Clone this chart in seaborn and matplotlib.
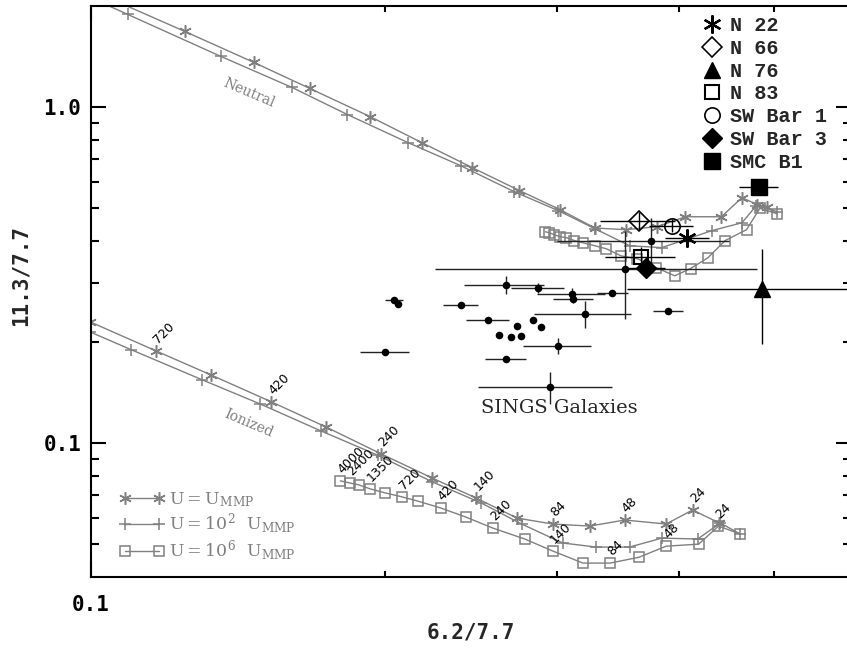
import numpy as np
import pandas as pd
import matplotlib
matplotlib.use("Agg")
import matplotlib.pyplot as plt
import seaborn as sns
from matplotlib.lines import Line2D
from matplotlib.ticker import FixedLocator, FixedFormatter, NullFormatter

# ---------------- data ----------------
# Neutral model curves
neu_u1_x = [0.104, 0.1247, 0.1468, 0.1675, 0.193, 0.218, 0.2456, 0.2745, 0.302, 0.328,
            0.353, 0.380, 0.406, 0.442, 0.464, 0.481, 0.492]
neu_u1_y = [2.12, 1.681, 1.359, 1.137, 0.938, 0.785, 0.661, 0.565, 0.496, 0.437,
            0.432, 0.441, 0.472, 0.472, 0.538, 0.513, 0.503]
neu_u2_x = [0.0926, 0.109, 0.1358, 0.1606, 0.183, 0.211, 0.239, 0.271, 0.301, 0.328,
            0.356, 0.384, 0.432, 0.464, 0.480, 0.504]
neu_u2_y = [2.34, 1.889, 1.416, 1.145, 0.951, 0.785, 0.670, 0.561, 0.492, 0.435,
            0.387, 0.382, 0.429, 0.453, 0.5095, 0.489]
neu_u6_x = [0.2918, 0.2946, 0.2981, 0.302, 0.3067, 0.3125, 0.319, 0.328, 0.337, 0.349,
            0.3627, 0.379, 0.396, 0.411, 0.428, 0.446, 0.469, 0.484, 0.504]
neu_u6_y = [0.426, 0.423, 0.4175, 0.4118, 0.409, 0.401, 0.395, 0.387, 0.379, 0.361,
            0.354, 0.333, 0.315, 0.331, 0.356, 0.401, 0.432, 0.500, 0.482]

# Ionized model curves
ion_u1_x = [0.0997, 0.1165, 0.1326, 0.153, 0.174, 0.198, 0.2235, 0.248, 0.273, 0.297,
            0.324, 0.352, 0.388, 0.413, 0.440]
ion_u1_y = [0.230, 0.1884, 0.1598, 0.1328, 0.1118, 0.0931, 0.0788, 0.0687, 0.0599, 0.0575,
            0.0567, 0.0591, 0.0575, 0.0633, 0.0579]
ion_u1_nc = ["", "720", "", "420", "", "240", "", "140", "", "84", "", "48", "", "24", ""]
ion_u2_x = [0.0997, 0.110, 0.130, 0.149, 0.172, 0.1965, 0.2235, 0.251, 0.276, 0.304,
            0.329, 0.356, 0.384, 0.418, 0.441, 0.462]
ion_u2_y = [0.2146, 0.1897, 0.1544, 0.1309, 0.1088, 0.0922, 0.0768, 0.0664, 0.0575, 0.0505,
            0.0491, 0.0491, 0.0522, 0.0519, 0.0579, 0.0537]
ion_u6_x = [0.180, 0.184, 0.188, 0.193, 0.200, 0.208, 0.216, 0.228, 0.242, 0.258,
            0.278, 0.297, 0.319, 0.340, 0.364, 0.388, 0.419, 0.439, 0.462]
ion_u6_y = [0.0773, 0.0762, 0.0752, 0.0732, 0.0712, 0.0693, 0.0673, 0.0642, 0.0603, 0.0559,
            0.0519, 0.0478, 0.0440, 0.0440, 0.0458, 0.0494, 0.0501, 0.0567, 0.0537]
ion_u6_nc = ["4000", "2400", "", "1350", "", "720", "", "420", "", "240",
             "", "140", "", "84", "", "48", "", "24", ""]

# SINGS galaxies
sings_x = [0.2043, 0.2062, 0.2393, 0.200, 0.2661, 0.2870, 0.3110, 0.3419, 0.3118, 0.3208,
           0.2551, 0.2837, 0.2891, 0.2732, 0.2618, 0.2694, 0.2758, 0.3009, 0.2661, 0.2953,
           0.3525, 0.3747, 0.3902]
sings_y = [0.2673, 0.2601, 0.2583, 0.1871, 0.2967, 0.2906, 0.2785, 0.2790, 0.2695, 0.2431,
           0.2330, 0.2330, 0.2221, 0.2236, 0.2102, 0.2073, 0.2088, 0.1950, 0.1783, 0.1472,
           0.3310, 0.4006, 0.2478]
sings_xerr = [0.0044, 0.0, 0.010, 0.0114, 0.025, 0.018, 0.025, 0.0125, 0.0144, 0.0365,
              0.013, 0.0, 0.0, 0.0, 0.0, 0.0, 0.0, 0.0238, 0.0128, 0.046,
              0.1277, 0.075, 0.0138]
sings_yerr = [0.0, 0.0, 0.0, 0.0, 0.018, 0.010, 0.011, 0.0, 0.0075, 0.0225,
              0.005, 0.0, 0.0, 0.0, 0.0, 0.0, 0.0, 0.011, 0.0, 0.016,
              0.097, 0.067, 0.004]

# Named regions
obj_names = ["N 22", "N 66", "N 76", "N 83", "SW Bar 1", "SW Bar 3", "SMC B1"]
obj_x = [0.408, 0.364, 0.487, 0.366, 0.393, 0.370, 0.483]
obj_y = [0.409, 0.460, 0.288, 0.359, 0.444, 0.333, 0.580]
obj_xerr = [0.021, 0.032, 0.133, 0.030, 0.020, 0.017, 0.022]
obj_yerr = [0.010, 0.028, 0.091, 0.024, 0.020, 0.008, 0.0]

# ---------------- style ----------------
sns.set_style("ticks")
plt.rcParams["font.family"] = ["DejaVu Sans"]
plt.rcParams["mathtext.fontset"] = "dejavuserif"

GRAY = "#808080"
AST = (6, 2, 0)

fig = plt.figure(figsize=(8.47, 6.48), dpi=100)
ax = fig.add_axes([91 / 847, 71 / 648, 760 / 847, 571 / 648])
ax.set_xscale("log")
ax.set_yscale("log")


def curve(x, y, marker, ms, mfc):
    sns.lineplot(x=x, y=y, sort=False, estimator=None, ax=ax, color=GRAY, lw=1,
                 marker=marker, markersize=ms, markerfacecolor=mfc,
                 markeredgecolor=GRAY, markeredgewidth=1.1, legend=False, zorder=2)


curve(neu_u1_x, neu_u1_y, AST, 9, GRAY)
curve(neu_u2_x, neu_u2_y, "+", 8, GRAY)
curve(neu_u6_x, neu_u6_y, "s", 7, "none")
curve(ion_u1_x, ion_u1_y, AST, 9, GRAY)
curve(ion_u2_x, ion_u2_y, "+", 8, GRAY)
curve(ion_u6_x, ion_u6_y, "s", 7, "none")

# size labels
for xs, ys, labs in [(ion_u1_x, ion_u1_y, ion_u1_nc), (ion_u6_x, ion_u6_y, ion_u6_nc)]:
    for xv, yv, lab in zip(xs, ys, labs):
        if lab:
            ax.annotate(lab, xy=(xv, yv), xytext=(3, 3.5), textcoords="offset points",
                        rotation=45, rotation_mode="anchor", ha="left", va="bottom",
                        fontsize=9, color="black", zorder=5)

ax.text(0.145, 1.106, "Neutral", rotation=-23, color=GRAY, fontsize=10,
        family="DejaVu Serif", ha="center", va="center")
ax.text(0.145, 0.1149, "Ionized", rotation=-23, color=GRAY, fontsize=10,
        family="DejaVu Serif", ha="center", va="center")

# SINGS galaxies
ax.errorbar(sings_x, sings_y, xerr=sings_xerr, yerr=sings_yerr, fmt="none",
            ecolor="#222222", elinewidth=1, capsize=0, zorder=3)
sns.scatterplot(x=sings_x, y=sings_y, color="black", s=30, linewidth=0, ax=ax,
                zorder=4, legend=False)
ax.text(0.302, 0.1274, "SINGS Galaxies", family="DejaVu Serif", fontsize=14,
        ha="center", va="center", zorder=5)

# named regions
obj_style = {
    "N 22": dict(marker=AST, ms=13, mfc="black", mec="black", mew=1.6),
    "N 66": dict(marker="D", ms=10, mfc="none", mec="black", mew=1.2),
    "N 76": dict(marker="^", ms=11, mfc="black", mec="black", mew=1),
    "N 83": dict(marker="s", ms=10, mfc="none", mec="black", mew=1.5),
    "SW Bar 1": dict(marker="o", ms=11, mfc="none", mec="black", mew=1.2),
    "SW Bar 3": dict(marker="D", ms=10, mfc="black", mec="black", mew=1),
    "SMC B1": dict(marker="s", ms=11, mfc="black", mec="black", mew=1),
}
handles = []
for name, xv, yv, xe, ye in zip(obj_names, obj_x, obj_y, obj_xerr, obj_yerr):
    st = obj_style[name]
    ax.errorbar([xv], [yv], xerr=[xe], yerr=[ye], fmt="none", ecolor="black",
                elinewidth=1, capsize=0, zorder=5)
    ax.plot([xv], [yv], linestyle="none", zorder=6, **st)
    handles.append(Line2D([], [], linestyle="none", **st))

leg1 = ax.legend(handles, obj_names, loc="upper left",
                 bbox_to_anchor=(702 / 847, 1 - 16 / 648), bbox_transform=fig.transFigure,
                 frameon=False, borderpad=0, borderaxespad=0, handlelength=1.0,
                 handletextpad=0.4, labelspacing=0.19,
                 prop={"family": "Liberation Mono", "weight": "bold", "size": 14.5})
ax.add_artist(leg1)

mod_handles = [
    Line2D([], [], color=GRAY, lw=1, marker=AST, ms=9, mfc=GRAY, mec=GRAY, mew=1.1),
    Line2D([], [], color=GRAY, lw=1, marker="+", ms=8, mfc=GRAY, mec=GRAY, mew=1.1),
    Line2D([], [], color=GRAY, lw=1, marker="s", ms=7, mfc="none", mec=GRAY, mew=1.1),
]
mod_labels = [r"$\mathrm{U}=\mathrm{U}_{\mathrm{MMP}}$",
              r"$\mathrm{U}=10^{2}\ \ \mathrm{U}_{\mathrm{MMP}}$",
              r"$\mathrm{U}=10^{6}\ \ \mathrm{U}_{\mathrm{MMP}}$"]
ax.legend(mod_handles, mod_labels, loc="upper left",
          bbox_to_anchor=(120 / 847, 1 - 490 / 648), bbox_transform=fig.transFigure,
          frameon=False, borderpad=0, borderaxespad=0, numpoints=2,
          handlelength=2.55, handletextpad=0.25, labelspacing=0.15, labelcolor=GRAY,
          prop={"family": "DejaVu Serif", "size": 12.5})

# axes
ax.set_xlim(0.1, 0.6)
ax.set_ylim(0.04, 2.0)
ax.xaxis.set_major_locator(FixedLocator([0.1]))
ax.xaxis.set_major_formatter(FixedFormatter(["0.1"]))
ax.xaxis.set_minor_locator(FixedLocator([0.2, 0.3, 0.4, 0.5]))
ax.xaxis.set_minor_formatter(NullFormatter())
ax.yaxis.set_major_locator(FixedLocator([0.1, 1.0]))
ax.yaxis.set_major_formatter(FixedFormatter(["0.1", "1.0"]))
ax.yaxis.set_minor_locator(FixedLocator([0.05, 0.06, 0.07, 0.08, 0.09,
                                         0.2, 0.3, 0.4, 0.5, 0.6, 0.7, 0.8, 0.9]))
ax.yaxis.set_minor_formatter(NullFormatter())

ax.tick_params(which="both", direction="in", top=True, right=True, width=1.5,
               colors="black")
ax.tick_params(axis="y", which="major", length=10.8, pad=7)
ax.tick_params(axis="y", which="minor", length=5.8)
ax.tick_params(axis="x", which="major", length=10.8, pad=13)
ax.tick_params(axis="x", which="minor", length=4.3)
for lab in ax.get_xticklabels() + ax.get_yticklabels():
    lab.set_family("DejaVu Sans Mono")
    lab.set_fontweight("bold")
    lab.set_fontsize(15)
for sp in ax.spines.values():
    sp.set_linewidth(1.5)
    sp.set_color("black")

ax.set_xlabel("6.2/7.7", family="DejaVu Sans Mono", fontweight="bold", fontsize=15,
              va="center")
ax.xaxis.set_label_coords(0.5, -(633 - 577) / 571)
ax.set_ylabel("11.3/7.7", family="DejaVu Sans Mono", fontweight="bold", fontsize=15,
              va="center")
ax.yaxis.set_label_coords(-(91 - 21) / 760, (577 - 275) / 571)

fig.savefig("out.png", dpi=100)
